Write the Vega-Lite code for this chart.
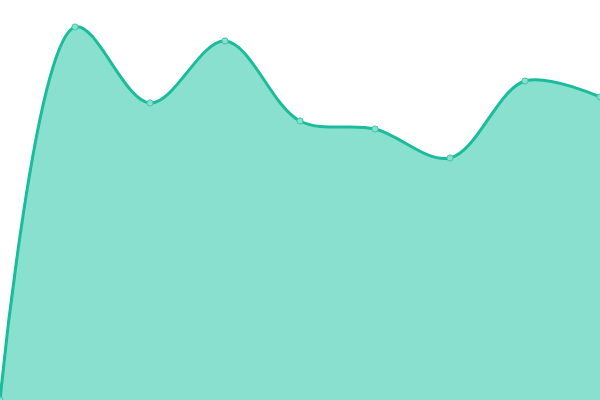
{
  "$schema": "https://vega.github.io/schema/vega-lite/v6.json",
  "width": 600,
  "height": 400,
  "autosize": "none",
  "padding": 0,
  "background": "white",
  "config": {"view": {"stroke": null}},
  "data": {
    "values": [
      {"step": 0, "value": 0},
      {"step": 1, "value": 373},
      {"step": 2, "value": 297},
      {"step": 3, "value": 359},
      {"step": 4, "value": 279},
      {"step": 5, "value": 271},
      {"step": 6, "value": 242},
      {"step": 7, "value": 319},
      {"step": 8, "value": 303}
    ]
  },
  "encoding": {
    "x": {"field": "step", "type": "quantitative", "axis": null, "scale": {"domain": [0, 8], "nice": false}},
    "y": {"field": "value", "type": "quantitative", "axis": null, "scale": {"domain": [0, 400], "nice": false}}
  },
  "layer": [
    {
      "mark": {"type": "area", "interpolate": "catmull-rom", "color": "#8ae0cf", "opacity": 1, "clip": true}
    },
    {
      "mark": {"type": "line", "interpolate": "catmull-rom", "color": "#1abc9c", "strokeWidth": 3, "clip": true}
    },
    {
      "mark": {"type": "point", "filled": true, "size": 38, "fill": "#8ae0cf", "stroke": "#3cc8aa", "strokeWidth": 1, "opacity": 1, "clip": true}
    }
  ]
}
